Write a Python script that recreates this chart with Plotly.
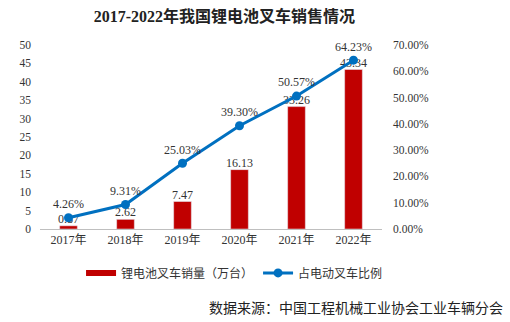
import plotly.graph_objects as go

years = ["2017年", "2018年", "2019年", "2020年", "2021年", "2022年"]
sales = [0.87, 2.62, 7.47, 16.13, 33.26, 43.34]
ratio = [4.26, 9.31, 25.03, 39.30, 50.57, 64.23]
left_ticks = [0, 5, 10, 15, 20, 25, 30, 35, 40, 45, 50]
right_ticks = [0, 10, 20, 30, 40, 50, 60, 70]

serif = "Liberation Serif, Times New Roman, Noto Sans CJK SC, serif"
cjk = "Liberation Serif, Noto Sans CJK SC, serif"
RED = "#C00000"
BLUE = "#0070C0"

fig = go.Figure()
fig.add_trace(go.Bar(
    x=years, y=sales, marker_color=RED, width=0.31, showlegend=False,
))
fig.add_trace(go.Scatter(
    x=years, y=sales, mode="text",
    text=[f"{v:.2f}" for v in sales], textposition="top center",
    textfont=dict(family=serif, size=12, color="#333"),
    cliponaxis=False, showlegend=False,
))
fig.add_trace(go.Scatter(
    x=[None], y=[None], mode="lines", line=dict(color=RED, width=6),
    name="锂电池叉车销量（万台）",
))
fig.add_trace(go.Scatter(
    x=years, y=ratio, yaxis="y2", mode="lines+markers+text",
    line=dict(color=BLUE, width=3), marker=dict(color=BLUE, size=9),
    text=[f"{v:.2f}%" for v in ratio], textposition="top center",
    textfont=dict(family=serif, size=12, color="#333"),
    cliponaxis=False, name="占电动叉车比例",
))

fig.update_layout(
    width=510, height=322,
    margin=dict(l=40, r=128, t=45, b=93),
    paper_bgcolor="white", plot_bgcolor="white",
    title=dict(text="<b>2017-2022年我国锂电池叉车销售情况</b>", x=0.44, xanchor="center",
               y=0.95, yanchor="middle",
               font=dict(family=cjk, size=16, color="#222")),
    xaxis=dict(showline=True, linecolor="#BFBFBF", linewidth=1, ticks="",
               tickfont=dict(family=cjk, size=12, color="#333"), showgrid=False),
    yaxis=dict(range=[0, 50], tickvals=left_ticks, showgrid=False, zeroline=False,
               showline=False, tickfont=dict(family=serif, size=11.5, color="#333"),
               ticklabelstandoff=8),
    yaxis2=dict(range=[0, 70], overlaying="y", side="right", tickvals=right_ticks,
                ticktext=[f"{v:.2f}%" for v in right_ticks], showgrid=False,
                zeroline=False, showline=False,
                tickfont=dict(family=serif, size=11.5, color="#333"),
                ticklabelstandoff=10),
    legend=dict(orientation="h", x=0.12, y=-0.16, xanchor="left", yanchor="top",
                font=dict(family=cjk, size=12, color="#333"), itemwidth=30,
                traceorder="normal"),
    annotations=[dict(text="数据来源：中国工程机械工业协会工业车辆分会",
                      xref="paper", yref="paper", x=1.36, y=-0.43,
                      xanchor="right", yanchor="middle", showarrow=False,
                      font=dict(family=cjk, size=14, color="#222"))],
)

fig.write_html("out.html")
